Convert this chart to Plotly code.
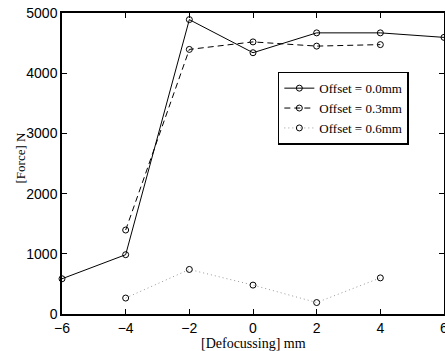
import plotly.graph_objects as go

x_all = [-6, -4, -2, 0, 2, 4, 6]
force_00 = [585, 985, 4890, 4340, 4670, 4670, 4595]
x_03 = [-4, -2, 0, 2, 4]
force_03 = [1395, 4395, 4520, 4450, 4475]
x_06 = [-4, -2, 0, 2, 4]
force_06 = [265, 740, 480, 190, 600]
names = ["Offset = 0.0mm", "Offset = 0.3mm", "Offset = 0.6mm"]
x_ticks = [-6, -4, -2, 0, 2, 4, 6]
x_ticktext = ["\u22126", "\u22124", "\u22122", "0", "2", "4", "6"]
y_ticks = [0, 1000, 2000, 3000, 4000, 5000]
x_title = "[Defocussing] mm"
y_title = "[Force] N"

fig = go.Figure()
marker = dict(symbol="circle-open", size=6, color="black", line=dict(width=1))
fig.add_trace(go.Scatter(x=x_all, y=force_00, mode="lines+markers", name=names[0],
                         line=dict(color="black", width=1), marker=marker, cliponaxis=False))
fig.add_trace(go.Scatter(x=x_03, y=force_03, mode="lines+markers", name=names[1],
                         line=dict(color="black", width=1, dash="6px,4px"), marker=marker))
fig.add_trace(go.Scatter(x=x_06, y=force_06, mode="lines+markers", name=names[2],
                         line=dict(color="#999999", width=1, dash="1px,3px"), marker=marker))

axis_common = dict(showline=True, linecolor="black", linewidth=1.5, mirror="ticks",
                   ticks="inside", ticklen=5, tickcolor="black", showgrid=False,
                   zeroline=False, automargin=False, ticklabeloverflow="allow",
                   tickfont=dict(family="Liberation Sans, Arial", size=14, color="black"))

fig.update_layout(
    width=445, height=351,
    margin=dict(l=62, r=1, t=13, b=37),
    paper_bgcolor="white", plot_bgcolor="white",
    xaxis=dict(range=[-6, 6], tickvals=x_ticks, ticktext=x_ticktext, **axis_common),
    yaxis=dict(range=[0, 5000], tickvals=y_ticks, **axis_common),
    legend=dict(x=0.565, y=0.805, xanchor="left", yanchor="top", bgcolor="white",
                bordercolor="black", borderwidth=1.5,
                font=dict(family="Liberation Serif, Times New Roman", size=13, color="black"),
                tracegroupgap=0, itemwidth=30),
    showlegend=True,
    annotations=[
        dict(text=x_title, xref="paper", yref="paper", x=0.5, y=-0.097,
             xanchor="center", yanchor="middle", showarrow=False,
             font=dict(family="Liberation Serif, Times New Roman", size=14, color="black")),
        dict(text=y_title, xref="paper", yref="paper", x=-0.11, y=0.52,
             xanchor="center", yanchor="middle", showarrow=False, textangle=-90,
             font=dict(family="Liberation Serif, Times New Roman", size=13, color="black")),
    ],
)

fig.write_html("out.html", config={"displayModeBar": False},
               post_script="document.body.style.margin='0';document.body.style.overflow='hidden';")
